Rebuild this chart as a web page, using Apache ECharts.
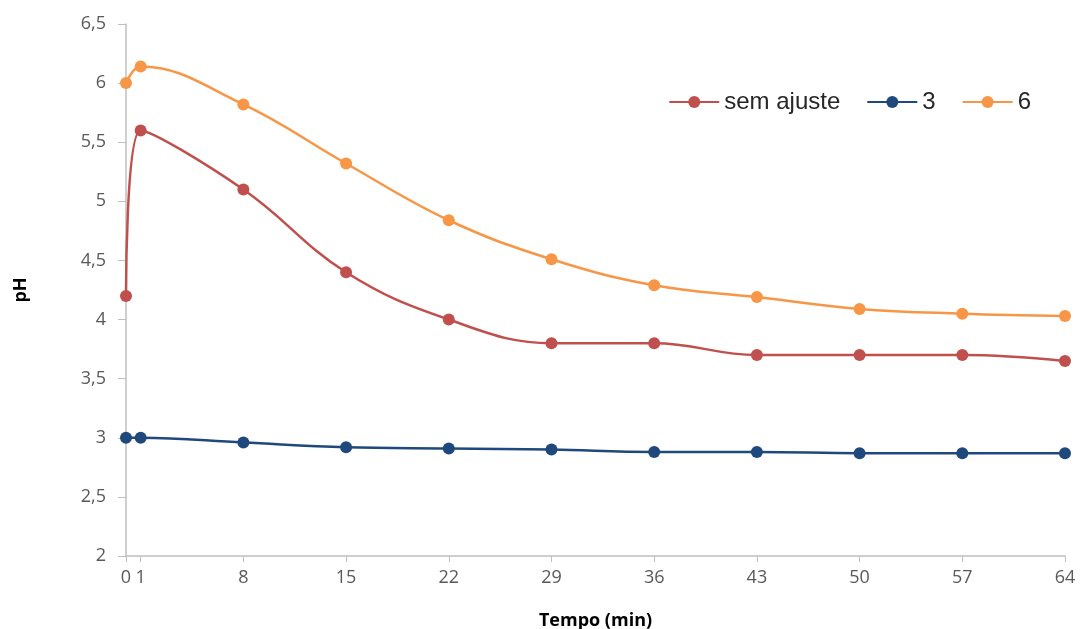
<!DOCTYPE html>
<html><head><meta charset="utf-8">
<script src="https://cdn.jsdelivr.net/npm/echarts@6/dist/echarts.min.js"></script>
<style>html,body{margin:0;padding:0;background:#fff}#c{width:1080px;height:629px}</style>
</head><body><div id="c"></div>
<script>
var times = [0, 1, 8, 15, 22, 29, 36, 43, 50, 57, 64];
var xTicks = [0, 1, 8, 15, 22, 29, 36, 43, 50, 57, 64];
var semAjuste = [4.2, 5.6, 5.1, 4.4, 4.0, 3.8, 3.8, 3.7, 3.7, 3.7, 3.65];
var ph3 = [3.0, 3.0, 2.96, 2.92, 2.91, 2.90, 2.88, 2.88, 2.87, 2.87, 2.87];
var ph6 = [6.0, 6.14, 5.82, 5.32, 4.84, 4.51, 4.29, 4.19, 4.09, 4.05, 4.03];
var seriesNames = ['sem ajuste', '3', '6'];
var colors = ['#c0504d', '#1f497d', '#f79646'];

function pairs(arr){ return times.map(function(t,i){ return [t, arr[i]]; }); }
var chart = echarts.init(document.getElementById('c'));
var font = 'Open Sans, Liberation Sans, sans-serif';
function mk(name, data, color){
  return {name:name, type:'line', data:pairs(data), smooth:0.4, symbol:'circle', symbolSize:12,
    itemStyle:{color:color}, lineStyle:{color:color, width:2.5}, z: 3};
}
chart.setOption({
  animation:false,
  grid:{left:126, right:15, top:24, bottom:73, outerBoundsMode:'none', containLabel:false},
  legend:{top:85, right:44, itemWidth:50, itemHeight:15, itemGap:26,
    textStyle:{fontSize:24, color:'#262626', fontFamily:'Liberation Sans, Arial, sans-serif'},
    data:seriesNames},
  xAxis:{type:'value', min:0, max:64,
    name:'Tempo (min)', nameLocation:'middle', nameGap:56,
    nameTextStyle:{fontSize:18, fontWeight:'bold', color:'#000', fontFamily:font},
    axisLine:{lineStyle:{color:'#bfbfbf', width:1.5}},
    axisTick:{show:true, length:6, lineStyle:{color:'#bfbfbf'}, customValues:xTicks},
    axisLabel:{fontSize:18, color:'#595959', margin:13, fontFamily:font, customValues:xTicks},
    splitLine:{show:false}},
  yAxis:{type:'value', min:2, max:6.5, interval:0.5,
    name:'pH', nameLocation:'middle', nameGap:96, nameRotate:90,
    nameTextStyle:{fontSize:18, fontWeight:'bold', color:'#000', fontFamily:font},
    axisLine:{show:true, lineStyle:{color:'#bfbfbf', width:1.5}},
    axisTick:{show:true, length:8, lineStyle:{color:'#bfbfbf'}},
    axisLabel:{fontSize:18, color:'#595959', margin:20, fontFamily:font,
      formatter:function(v){ return String(v).replace('.', ','); }},
    splitLine:{show:false}},
  series:[mk(seriesNames[0], semAjuste, colors[0]), mk(seriesNames[1], ph3, colors[1]), mk(seriesNames[2], ph6, colors[2])]
});
</script></body></html>
